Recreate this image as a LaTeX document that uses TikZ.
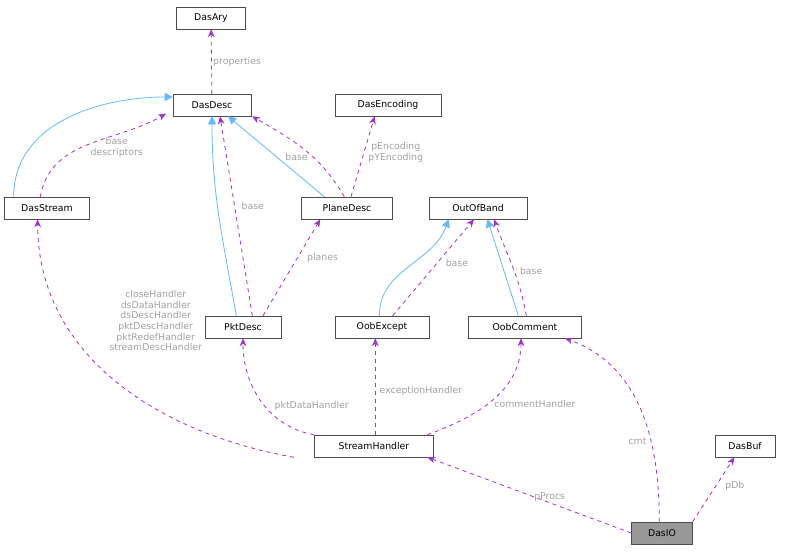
\documentclass[tikz,border=0pt]{standalone}
\usepackage{fontspec}
\setmainfont{DejaVu Sans}
\usetikzlibrary{arrows.meta}
\definecolor{dpurple}{RGB}{154,50,205}
\definecolor{dblue}{RGB}{99,184,255}
\definecolor{dlabel}{RGB}{160,160,160}
\definecolor{dgray}{RGB}{153,153,153}
\begin{document}
\begin{tikzpicture}[x=0.75pt, y=-0.75pt,
    cls/.style={draw=black!70, fill=white, minimum height=16.5pt, inner sep=0pt, font=\fontsize{7}{8}\selectfont},
    focus/.style={cls, fill=dgray},
    usage/.style={-{Stealth[length=6pt,width=5pt]}, dashed, dpurple, semithick},
    inherit/.style={-{Triangle[open, fill=dblue, length=6pt, width=6pt]}, dblue, semithick},
    lbl/.style={text=dlabel, font=\fontsize{7}{8}\selectfont, align=center, inner sep=1pt},
]
\useasboundingbox (0,0) rectangle (791,553);
\node[cls, minimum width=51.75pt] (dasary) at (211,18) {DasAry};
\node[cls, minimum width=58.5pt] (dasdesc) at (212,105) {DasDesc};
\node[cls, minimum width=79.5pt] (dasenc) at (388,105) {DasEncoding};
\node[cls, minimum width=63.75pt] (dasstream) at (47,208) {DasStream};
\node[cls, minimum width=68.25pt] (planedesc) at (347,208) {PlaneDesc};
\node[cls, minimum width=73.5pt] (oob) at (478,208) {OutOfBand};
\node[cls, minimum width=57pt] (pktdesc) at (243,327) {PktDesc};
\node[cls, minimum width=70.5pt] (oobexcept) at (382,327) {OobExcept};
\node[cls, minimum width=84.75pt] (oobcomment) at (525,327) {OobComment};
\node[cls, minimum width=89.25pt] (handler) at (374,446) {StreamHandler};
\node[cls, minimum width=45pt] (dasbuf) at (745,446) {DasBuf};
\node[focus, minimum width=45.75pt] (dasio) at (662,533) {DasIO};

% inheritance
\draw[inherit] ([xshift=-25]dasstream.north) to[out=90, in=180] ([yshift=6]dasdesc.west);
\draw[inherit] ([xshift=-5]pktdesc.north) to[out=100, in=-90] (dasdesc.south);
\draw[inherit] ([xshift=-17]planedesc.north) -- ([xshift=12]dasdesc.south);
\draw[inherit] ([xshift=-2]oobexcept.north) to[out=90, in=-110] ([xshift=-22]oob.south);
\draw[inherit] ([xshift=-5]oobcomment.north) -- ([xshift=7]oob.south);

% usage
\draw[usage] (dasdesc) -- node[lbl, right] {properties} (dasary);
\draw[usage] ([xshift=-5]dasstream.north) to[out=80, in=-150] node[lbl, pos=0.45, right=6pt] {base\\descriptors} ([xshift=-5,yshift=2]dasdesc.south west);
\draw[usage] ([xshift=7]pktdesc.north) -- node[lbl, pos=0.55, right=4pt] {base} ([xshift=6]dasdesc.south);
\draw[usage] ([xshift=-2]planedesc.north) to[out=120, in=-30] node[lbl, pos=0.4, left=3pt] {base} ([xshift=30]dasdesc.south);
\draw[usage] ([xshift=3]planedesc.north) -- node[lbl, pos=0.55, right=2pt] {pEncoding\\pYEncoding} ([xshift=-10]dasenc.south);
\draw[usage] ([xshift=15]pktdesc.north) -- node[lbl, pos=0.6, right=6pt] {planes} ([xshift=-20]planedesc.south);
\draw[usage] ([xshift=8]oobexcept.north) -- node[lbl, pos=0.55, right=5pt] {base} ([xshift=-3]oob.south);
\draw[usage] ([xshift=1]oobcomment.north) to[out=100, in=-70] node[lbl, pos=0.45, right=3pt] {base} ([xshift=12]oob.south);
\draw[usage] ([xshift=-60]handler.south) to[out=170, in=-90] node[lbl, pos=0.6, anchor=south west, xshift=14pt, yshift=2pt] {closeHandler\\dsDataHandler\\dsDescHandler\\pktDescHandler\\pktRedefHandler\\streamDescHandler} ([xshift=-7]dasstream.south);
\draw[usage] ([xshift=-45]handler.north) to[out=170, in=-90] node[lbl, pos=0.45, right=6pt] {pktDataHandler} (pktdesc.south);
\draw[usage] ([xshift=1]handler.north) -- node[lbl, pos=0.45, right=2pt] {exceptionHandler} ([xshift=-5]oobexcept.south);
\draw[usage] ([xshift=40]handler.north) to[out=20, in=-90] node[lbl, pos=0.45, right=4pt] {commentHandler} ([xshift=-3]oobcomment.south);
\draw[usage] (dasio.west) -- node[lbl, pos=0.4, above] {pProcs} ([xshift=40]handler.south);
\draw[usage] ([xshift=-2]dasio.north) to[out=90, in=-20] node[lbl, pos=0.35, left=2pt] {cmt} ([xshift=30]oobcomment.south);
\draw[usage] ([xshift=23]dasio.north) -- node[lbl, pos=0.55, right=6pt] {pDb} ([xshift=-8]dasbuf.south);
\end{tikzpicture}
\end{document}
